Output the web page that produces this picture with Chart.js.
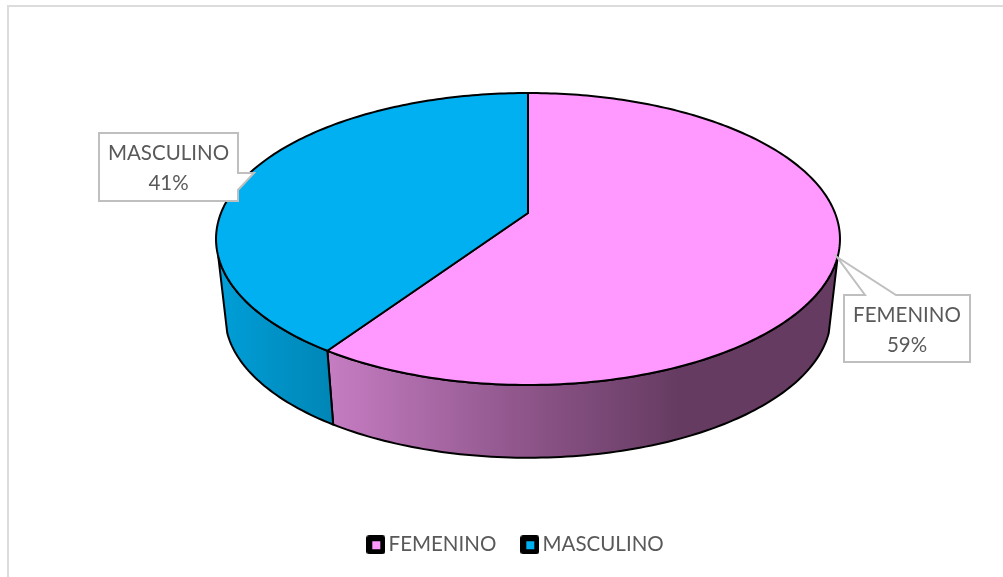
<!DOCTYPE html>
<html>
<head>
<meta charset="utf-8">
<style>
  html, body { margin: 0; padding: 0; background: #fff; overflow: hidden; }
  #frame { position: absolute; left: 7px; top: 5px; right: 0; bottom: 0; border-left: 2px solid #dcdcdc; border-top: 2px solid #dcdcdc; }
  #pie { position: absolute; left: 0; top: 0; }
</style>
<script src="https://cdn.jsdelivr.net/npm/chart.js@4/dist/chart.umd.js"></script>
</head>
<body>
<div id="frame"></div>
<canvas id="pie" width="1003" height="577"></canvas>
<script>
const categories = ['FEMENINO', 'MASCULINO'];
const shares = [59.4, 40.6];
const topColors = ['#ff99ff', '#00b0f0'];
const sideStops = [
  [[0, '#c67dc3'], [0.55, '#8f568b'], [1, '#653b61']],
  [[0, '#009dd6'], [1, '#0086b6']],
];
const sideRanges = [[327, 680], [225, 332]];

const FONT = '20.5px Lato, Carlito, sans-serif';
const TEXT = '#595959';
const CALLOUT = '#bfbfbf';

// Excel style tilted disc: the apex sits above the ellipse centre, so plain
// canvas scaling is not enough and the rim goes through a projective map.
const disc = { cx: 528, cy: 239, rx: 307, ry: 146, lift: 26, persp: -0.178, wallY: 316, wallScale: 0.971 };
const wallVisible = [107, 253];

function rim(deg) {
  const t = deg * Math.PI / 180;
  const x = Math.sin(t);
  const y = -Math.cos(t);
  const d = 1 + disc.persp * y;
  return { x: disc.rx * x / d, y: (disc.ry * y - disc.lift) / d };
}
const upper = (deg) => {
  const p = rim(deg);
  return { x: disc.cx + p.x, y: disc.cy + p.y };
};
const lower = (deg) => {
  const p = rim(deg);
  return { x: disc.cx + p.x * disc.wallScale, y: disc.wallY + p.y * disc.wallScale };
};
const toDeg = (angle) => (angle + Math.PI / 2) * 180 / Math.PI;

function drawWall(ctx, arc, i) {
  const from = Math.max(toDeg(arc.startAngle), wallVisible[0]);
  const to = Math.min(toDeg(arc.endAngle), wallVisible[1]);
  if (to <= from) return;
  ctx.beginPath();
  for (let d = from; d < to; d += 1) {
    const p = upper(d);
    ctx.lineTo(p.x, p.y);
  }
  const e = upper(to);
  ctx.lineTo(e.x, e.y);
  for (let d = to; d > from; d -= 1) {
    const p = lower(d);
    ctx.lineTo(p.x, p.y);
  }
  const s = lower(from);
  ctx.lineTo(s.x, s.y);
  ctx.closePath();
  const grad = ctx.createLinearGradient(sideRanges[i][0], 0, sideRanges[i][1], 0);
  sideStops[i].forEach(([at, color]) => grad.addColorStop(at, color));
  ctx.fillStyle = grad;
  ctx.fill();
  ctx.stroke();
}

function drawFace(ctx, arc, i) {
  const from = toDeg(arc.startAngle);
  const to = toDeg(arc.endAngle);
  ctx.beginPath();
  ctx.moveTo(disc.cx, disc.cy - disc.lift);
  for (let d = from; d < to; d += 1) {
    const p = upper(d);
    ctx.lineTo(p.x, p.y);
  }
  const e = upper(to);
  ctx.lineTo(e.x, e.y);
  ctx.closePath();
  ctx.fillStyle = topColors[i];
  ctx.fill();
  ctx.stroke();
}

const callouts = [
  { cx: 907, y1: 315, y2: 345, outline: [[844, 295], [865, 295], [837, 257], [896, 295], [970, 295], [970, 362], [844, 362]] },
  { cx: 168.5, y1: 153, y2: 183, outline: [[99, 133], [238, 133], [238, 173], [254, 173], [238, 190], [238, 201], [99, 201]] },
];

function drawCallout(ctx, c, i) {
  ctx.beginPath();
  c.outline.forEach(([x, y]) => ctx.lineTo(x, y));
  ctx.closePath();
  ctx.fillStyle = '#fff';
  ctx.fill();
  ctx.strokeStyle = CALLOUT;
  ctx.lineWidth = 2;
  ctx.lineJoin = 'miter';
  ctx.stroke();
  ctx.fillStyle = TEXT;
  ctx.font = FONT;
  ctx.textAlign = 'center';
  ctx.textBaseline = 'middle';
  ctx.fillText(categories[i], c.cx, c.y1);
  ctx.fillText(Math.round(shares[i]) + '%', c.cx, c.y2);
}

const discPlugin = {
  id: 'disc3d',
  beforeDatasetsDraw(chart) {
    const ctx = chart.ctx;
    const arcs = chart.getDatasetMeta(0).data;
    ctx.save();
    ctx.strokeStyle = '#000';
    ctx.lineWidth = 2;
    ctx.lineJoin = 'round';
    arcs.forEach((arc, i) => drawWall(ctx, arc, i));
    arcs.forEach((arc, i) => drawFace(ctx, arc, i));
    callouts.forEach((c, i) => drawCallout(ctx, c, i));
    ctx.restore();
    return false;
  },
};

// legend swatch: black rounded square with the slice colour in the middle
function swatch(color) {
  const c = document.createElement('canvas');
  c.width = 19;
  c.height = 19;
  const g = c.getContext('2d');
  g.fillStyle = '#000';
  g.beginPath();
  g.roundRect(0, 0, 19, 19, 3);
  g.fill();
  g.fillStyle = color;
  g.fillRect(6, 6, 8, 8);
  return c;
}

new Chart(document.getElementById('pie'), {
  type: 'pie',
  data: {
    labels: categories,
    datasets: [{ data: shares, backgroundColor: topColors, borderColor: '#000', borderWidth: 2 }],
  },
  options: {
    responsive: false,
    animation: false,
    layout: { padding: { left: 34, bottom: 12 } },
    plugins: {
      tooltip: { enabled: false },
      legend: {
        position: 'bottom',
        labels: {
          color: TEXT,
          font: { family: 'Lato, Carlito, sans-serif', size: 20.5 },
          usePointStyle: true,
          pointStyleWidth: 5,
          padding: 31,
          generateLabels: (chart) => categories.map((text, i) => ({
            text,
            fontColor: TEXT,
            pointStyle: swatch(topColors[i]),
            datasetIndex: 0,
            index: i,
          })),
        },
      },
    },
  },
  plugins: [discPlugin],
});
</script>
</body>
</html>
